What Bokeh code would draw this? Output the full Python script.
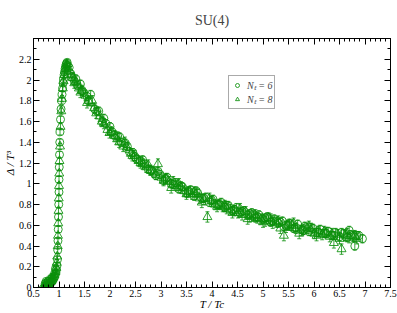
from bokeh.plotting import figure
from bokeh.models import (ColumnDataSource, Whisker, TeeHead, LinearAxis, SingleIntervalTicker,
                          CustomJSTickFormatter, Legend, LegendItem, Range1d)
from bokeh.embed import file_html
from bokeh.resources import INLINE

# ---- data: N_t = 6 (circles) ----
t6_low = [0.73, 0.74, 0.75, 0.76, 0.78, 0.79, 0.80, 0.82, 0.83, 0.84, 0.86, 0.87, 0.88, 0.90,
          0.91, 0.92, 0.93, 0.94,
          0.95, 0.96, 0.97, 0.975, 0.98, 0.985, 0.99, 0.995, 1.0,
          1.0, 1.005, 1.01, 1.015, 1.02, 1.03, 1.04, 1.05, 1.06, 1.07,
          1.08, 1.09, 1.10, 1.11, 1.12, 1.13, 1.14, 1.15, 1.16, 1.17]
d6_low = [0.04, 0.01, 0.06, 0.02, 0.03, 0.06, 0.03, 0.04, 0.08, 0.05, 0.06, 0.10, 0.07, 0.09,
          0.13, 0.11, 0.18, 0.14,
          0.17, 0.21, 0.27, 0.36, 0.45, 0.56, 0.68, 0.80, 0.92,
          1.04, 1.16, 1.28, 1.40, 1.50, 1.62, 1.72, 1.80, 1.86, 1.92,
          1.97, 2.01, 2.05, 2.08, 2.11, 2.13, 2.15, 2.16, 2.17, 2.14]
t6_high = [1.20, 1.25, 1.30, 1.36, 1.42, 1.48, 1.55, 1.62, 1.70, 1.78,
           1.85, 1.92, 2.00, 2.08, 2.15, 2.22, 2.30, 2.38, 2.45, 2.52,
           2.60, 2.68, 2.75, 2.82, 2.90, 2.98, 3.05, 3.12, 3.20, 3.28,
           3.35, 3.42, 3.50, 3.58, 3.65, 3.72, 3.80, 3.88, 3.95, 4.02,
           4.10, 4.18, 4.25, 4.32, 4.40, 4.48, 4.55, 4.62, 4.70, 4.78,
           4.85, 4.92, 5.00, 5.08, 5.15, 5.22, 5.30, 5.38, 5.45, 5.52,
           5.60, 5.68, 5.75, 5.82, 5.90, 5.98, 6.05, 6.12, 6.20, 6.28,
           6.35, 6.42, 6.50, 6.58, 6.65, 6.72, 6.80, 6.88, 6.95,
           1.23, 1.33, 1.45, 1.58, 1.74, 1.88, 2.04, 2.19, 2.34, 2.49,
           2.64, 2.79, 2.94, 3.09, 3.24, 3.39, 3.54, 3.69, 3.84, 3.99,
           4.14, 4.29, 4.44, 4.59, 4.74, 4.89, 5.04, 5.19, 5.34, 5.49,
           5.64, 5.79, 5.94, 6.09, 6.24, 6.39, 6.54, 6.69, 6.84]
d6_high = [2.12, 2.03, 1.99, 1.95, 1.96, 1.88, 1.84, 1.86, 1.72, 1.70,
           1.60, 1.58, 1.55, 1.47, 1.46, 1.40, 1.39, 1.31, 1.30, 1.24,
           1.22, 1.19, 1.14, 1.13, 1.08, 1.09, 1.03, 1.06, 1.00, 1.01,
           0.95, 0.97, 0.91, 0.94, 0.88, 0.91, 0.86, 0.87, 0.82, 0.85,
           0.80, 0.82, 0.77, 0.79, 0.74, 0.77, 0.72, 0.74, 0.70, 0.72,
           0.67, 0.70, 0.66, 0.68, 0.63, 0.66, 0.62, 0.64, 0.60, 0.62,
           0.57, 0.61, 0.56, 0.59, 0.54, 0.57, 0.53, 0.56, 0.52, 0.54,
           0.50, 0.53, 0.49, 0.52, 0.48, 0.51, 0.40, 0.50, 0.47,
           2.06, 2.01, 1.90, 1.80, 1.70, 1.63, 1.50, 1.45, 1.36, 1.26,
           1.23, 1.13, 1.12, 1.05, 0.99, 0.98, 0.93, 0.93, 0.86, 0.84,
           0.80, 0.79, 0.75, 0.73, 0.71, 0.68, 0.67, 0.64, 0.63, 0.60,
           0.58, 0.55, 0.58, 0.53, 0.52, 0.50, 0.53, 0.55, 0.50]
e6_low = [0.02] * 18 + [0.03] * 29
e6_high = [0.04] * 118

# ---- data: N_t = 8 (triangles) ----
t8_low = [0.70, 0.71, 0.72, 0.74, 0.75, 0.77, 0.78, 0.79, 0.81, 0.82, 0.83, 0.85, 0.86, 0.87, 0.89,
          0.91, 0.93, 0.945, 0.955, 0.965, 0.975, 0.98, 0.985, 0.99, 0.995,
          1.0, 1.005, 1.01, 1.02, 1.03, 1.045, 1.06, 1.075, 1.09, 1.105,
          1.12, 1.135, 1.15]
d8_low = [0.00, 0.03, 0.01, 0.04, 0.02, 0.02, 0.05, 0.03, 0.04, 0.07, 0.05, 0.06, 0.09, 0.08, 0.10,
          0.12, 0.15, 0.19, 0.24, 0.30, 0.40, 0.50, 0.62, 0.74, 0.86,
          0.98, 1.10, 1.22, 1.36, 1.55, 1.70, 1.82, 1.92, 1.99, 2.05,
          2.09, 2.12, 2.15]
t8_high = [1.22, 1.27, 1.33, 1.39, 1.45, 1.52, 1.58, 1.65, 1.73, 1.80,
           1.88, 1.95, 2.03, 2.10, 2.18, 2.26, 2.33, 2.41, 2.48, 2.56,
           2.64, 2.71, 2.79, 2.86, 2.94, 3.01, 3.09, 3.16, 3.24, 3.31,
           3.39, 3.46, 3.54, 3.61, 3.69, 3.76, 3.84, 3.91, 3.99, 4.06,
           4.14, 4.21, 4.29, 4.36, 4.44, 4.51, 4.59, 4.66, 4.74, 4.81,
           4.89, 4.96, 5.04, 5.11, 5.19, 5.26, 5.34, 5.41, 5.49, 5.56,
           5.64, 5.71, 5.79, 5.86, 5.94, 6.01, 6.09, 6.16, 6.24, 6.31,
           6.39, 6.46, 6.54, 6.61, 6.69, 6.76, 6.84,
           1.30, 1.42, 1.55, 1.69, 1.84, 1.99, 2.14, 2.29, 2.44, 2.60,
           2.75, 2.90, 3.05, 3.20, 3.35, 3.50, 3.65, 3.80, 3.95, 4.10,
           4.25, 4.40, 4.55, 4.70, 4.85, 5.00, 5.15, 5.30, 5.45, 5.60,
           5.75, 5.90, 6.05, 6.20, 6.35, 6.50, 6.65, 6.80]
d8_high = [2.08, 2.02, 1.98, 1.92, 1.90, 1.85, 1.80, 1.80, 1.68, 1.65,
           1.58, 1.52, 1.50, 1.46, 1.40, 1.36, 1.35, 1.29, 1.27, 1.22,
           1.19, 1.16, 1.13, 1.11, 1.19, 1.06, 1.05, 1.02, 1.02, 0.98,
           0.96, 0.93, 0.92, 0.90, 0.90, 0.86, 0.85, 0.68, 0.83, 0.80,
           0.80, 0.78, 0.76, 0.75, 0.74, 0.72, 0.70, 0.73, 0.68, 0.69,
           0.67, 0.66, 0.64, 0.67, 0.62, 0.63, 0.57, 0.50, 0.60, 0.60,
           0.57, 0.52, 0.56, 0.57, 0.55, 0.52, 0.54, 0.51, 0.53, 0.49,
           0.43, 0.51, 0.37, 0.50, 0.48, 0.49, 0.47,
           1.97, 1.88, 1.78, 1.73, 1.60, 1.49, 1.43, 1.40, 1.27, 1.20,
           1.18, 1.09, 1.03, 0.96, 1.00, 0.90, 0.92, 0.82, 0.86, 0.78,
           0.79, 0.72, 0.76, 0.66, 0.70, 0.63, 0.66, 0.64, 0.58, 0.62,
           0.55, 0.59, 0.50, 0.54, 0.52, 0.47, 0.52, 0.50]
e8_low = [0.02] * 17 + [0.03] * 21
e8_high = [0.05] * 115

title_text = "SU(4)"
x_label = "T / Tc"
y_label = "\u0394 / T\u00b3"
legend_labels = ["N\u209c = 6", "N\u209c = 8"]
GREEN = "#0a8f0a"
SERIF = "Liberation Serif"


def make_source(t, d, e):
    return ColumnDataSource(dict(x=t, y=d,
                                 lo=[a - b for a, b in zip(d, e)],
                                 hi=[a + b for a, b in zip(d, e)]))


src6 = make_source(t6_low + t6_high, d6_low + d6_high, e6_low + e6_high)
src8 = make_source(t8_low + t8_high, d8_low + d8_high, e8_low + e8_high)

p = figure(width=397, height=313, output_backend="svg", toolbar_location=None,
           x_range=Range1d(0.5, 7.5), y_range=Range1d(0, 2.4),
           min_border_left=33, min_border_right=7, min_border_top=36, min_border_bottom=26,
           x_axis_location=None, y_axis_location=None)
p.grid.visible = False
p.outline_line_color = "black"
p.outline_line_width = 1
p.background_fill_color = "white"
p.border_fill_color = "white"

p.title.text = title_text
p.title.text_font = SERIF
p.title.text_font_size = "14px"
p.title.text_font_style = "normal"
p.title.align = "center"
p.title.standoff = 21

fmt = CustomJSTickFormatter(code="var s = tick.toFixed(1); return s.replace(/\\.0$/, '');")
blank = CustomJSTickFormatter(code="return '';")


def style_axis(ax, labels=True):
    ax.axis_line_color = "black"
    ax.major_tick_in = 6
    ax.major_tick_out = 0
    ax.minor_tick_in = 3
    ax.minor_tick_out = 0
    ax.major_tick_line_color = "black"
    ax.minor_tick_line_color = "black"
    ax.major_label_text_font = SERIF
    ax.major_label_text_font_size = "10px"
    ax.major_label_text_color = "black"
    ax.axis_label_text_font = SERIF
    ax.axis_label_text_font_size = "11px"
    ax.axis_label_text_font_style = "italic"
    ax.axis_label_text_color = "black"
    ax.major_label_standoff = 2
    ax.axis_label_standoff = 0
    if not labels:
        ax.formatter = blank
        ax.major_label_text_font_size = "0px"
        ax.major_label_standoff = 0


xb = LinearAxis(ticker=SingleIntervalTicker(interval=0.5, num_minor_ticks=5), formatter=fmt,
                axis_label=x_label)
style_axis(xb)
xb.axis_label_standoff = -2
p.add_layout(xb, "below")

yl = LinearAxis(ticker=SingleIntervalTicker(interval=0.2, num_minor_ticks=2), formatter=fmt,
                axis_label=y_label)
style_axis(yl)
p.add_layout(yl, "left")

xt = LinearAxis(ticker=SingleIntervalTicker(interval=0.5, num_minor_ticks=5))
style_axis(xt, labels=False)
p.add_layout(xt, "above")

yr = LinearAxis(ticker=SingleIntervalTicker(interval=0.2, num_minor_ticks=2))
style_axis(yr, labels=False)
p.add_layout(yr, "right")

p.add_layout(Whisker(source=src6, base="x", lower="lo", upper="hi", line_color=GREEN,
                     line_alpha=0.8, upper_head=TeeHead(size=4, line_color=GREEN, line_alpha=0.8),
                     lower_head=TeeHead(size=4, line_color=GREEN, line_alpha=0.8)))
p.add_layout(Whisker(source=src8, base="x", lower="lo", upper="hi", line_color=GREEN,
                     line_alpha=0.8, upper_head=TeeHead(size=4, line_color=GREEN, line_alpha=0.8),
                     lower_head=TeeHead(size=4, line_color=GREEN, line_alpha=0.8)))

r6 = p.scatter("x", "y", source=src6, marker="circle", size=8, fill_color=None,
               line_color=GREEN, line_width=1, line_alpha=0.85)
r8 = p.scatter("x", "y", source=src8, marker="triangle", size=9, fill_color=None,
               line_color=GREEN, line_width=1, line_alpha=0.85)

legend = Legend(items=[LegendItem(label=legend_labels[0], renderers=[r6]),
                       LegendItem(label=legend_labels[1], renderers=[r8])],
                location=(195, 178), orientation="vertical",
                label_text_font=SERIF, label_text_font_size="10px", label_text_font_style="italic",
                border_line_color="#555555", border_line_width=1,
                padding=2, spacing=0, margin=0, label_height=10, glyph_height=10, glyph_width=12,
                label_standoff=4, background_fill_alpha=1)
p.add_layout(legend, "center")

open("out.html", "w").write(file_html(p, INLINE))
